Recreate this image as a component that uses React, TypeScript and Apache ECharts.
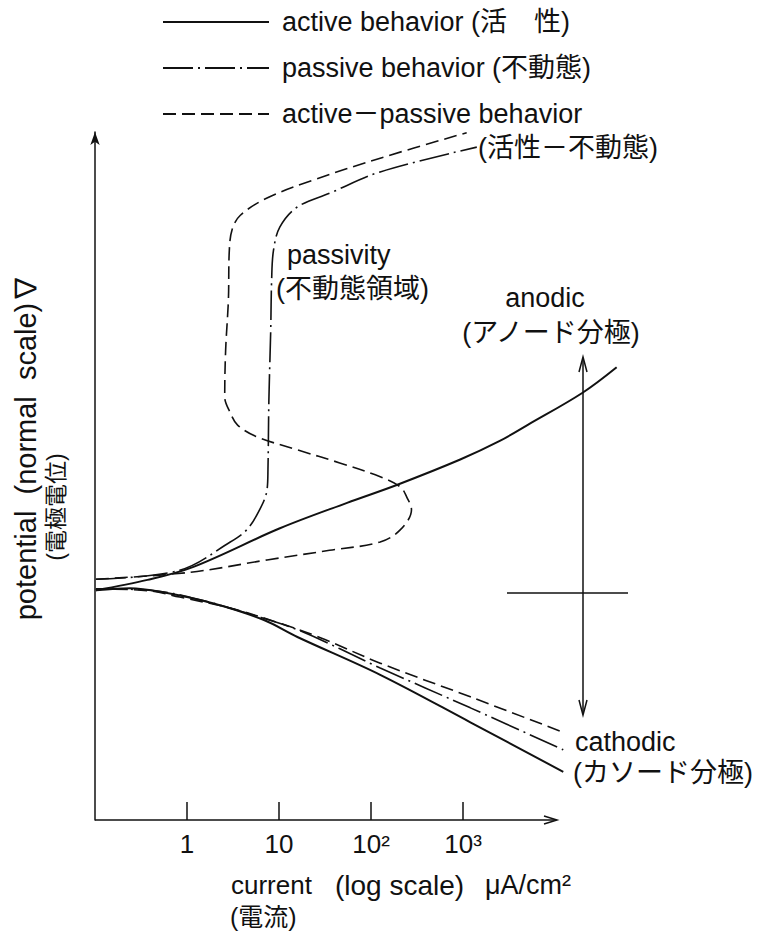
import React, { useEffect, useRef } from "react";
import * as echarts from "echarts";

// x: log10(current density, μA/cm²), y: potential (arbitrary, normal scale)
const activeAnodic: [number, number][] = [
  [-0.99, 33.4], [-0.43, 34.9], [0.07, 36.8], [1.01, 42.4], [1.74, 46.1],
  [2.28, 48.7], [2.97, 52.4], [3.4, 55.1], [3.7, 57.4], [4.3, 62.1], [4.67, 65.8],
];
const activeCathodic: [number, number][] = [
  [-0.99, 33.4], [-0.62, 33.7], [-0.26, 33.1], [0.28, 31.5], [0.83, 29.1],
  [1.2, 26.6], [2.1, 21.1], [3.08, 14.2], [4.09, 7.0],
];
const passiveAnodic: [number, number][] = [
  [-0.99, 35.0], [-0.08, 36.3], [0.47, 40.4], [0.65, 42.2], [0.79, 45.1],
  [0.87, 48.0], [0.88, 50.9], [0.89, 61.0], [0.91, 71.2], [0.92, 78.5],
  [0.94, 82.8], [1.01, 86.2], [1.2, 89.1], [1.55, 91.1], [2.1, 94.2], [3.15, 97.8],
];
const passiveCathodic: [number, number][] = [
  [-0.99, 33.6], [-0.4, 33.4], [0.14, 32.0], [0.69, 29.9], [1.23, 27.5],
  [2.1, 22.1], [3.08, 16.3], [4.09, 10.2],
];
const activePassiveAnodic: [number, number][] = [
  [-0.99, 35.0], [0.03, 36.0], [0.87, 37.8], [1.55, 39.2], [2.1, 40.4],
  [2.32, 42.2], [2.44, 45.1], [2.39, 46.9], [2.32, 48.4], [2.1, 49.9],
  [1.66, 51.9], [1.2, 53.8], [0.76, 55.7], [0.55, 57.4], [0.47, 59.2],
  [0.41, 61.5], [0.42, 68.3], [0.45, 75.6], [0.46, 82.8], [0.49, 85.8],
  [0.58, 87.9], [0.87, 90.4], [1.37, 93.0], [2.1, 96.2], [3.04, 99.9],
];
const activePassiveCathodic: [number, number][] = [
  [-0.99, 33.6], [-0.4, 33.3], [-0.08, 32.4], [0.47, 30.8], [1.01, 28.6],
  [1.45, 26.5], [2.1, 22.8], [3.08, 17.9], [4.08, 12.8],
];

const tickValues = [0, 1, 2, 3];
const tickLabels = ["1", "10", "10²", "10³"];

const seriesNames = [
  "active behavior (活　性)",
  "passive behavior (不動態)",
  "active－passive behavior",
];

const FONT = "'Liberation Sans', 'Noto Sans CJK JP', sans-serif";
const INK = "#111";

export default function App() {
  const ref = useRef<HTMLDivElement>(null);

  useEffect(() => {
    document.body.style.margin = "0";
    const chart = echarts.init(ref.current!, undefined, { renderer: "svg" });

    const styles: any[] = [
      { type: "solid", width: 2 },
      { type: [30, 5, 2, 5], width: 1.6 },
      { type: [13, 6], width: 1.6 },
    ];
    const mk = (name: string, data: [number, number][], st: any) => ({
      type: "line",
      name,
      data,
      smooth: 0.35,
      symbol: "none",
      clip: false,
      lineStyle: { color: INK, ...st },
      itemStyle: { color: INK },
    });

    const txt = (text: string, x: number, y: number, extra: any = {}) => ({
      type: "text",
      x,
      y,
      style: {
        text,
        fill: INK,
        font: `27px ${FONT}`,
        textAlign: "left",
        textVerticalAlign: "middle",
        ...extra,
      },
    });

    chart.setOption({
      animation: false,
      backgroundColor: "#fff",
      // x from -1 to 4.7 decades at 92 px per decade; the drawn axis stops at 4
      grid: { left: 95, top: 132, width: 524.4, height: 688 },
      legend: {
        orient: "vertical",
        left: 157,
        top: 3,
        itemWidth: 106,
        itemHeight: 14,
        itemGap: 18,
        data: seriesNames,
        itemStyle: { opacity: 0 },
        textStyle: {
          fontFamily: FONT,
          fontSize: 27,
          lineHeight: 28,
          color: INK,
          padding: [0, 0, 0, 8],
        },
        selectedMode: false,
      },
      xAxis: {
        type: "value",
        min: -1,
        max: 4.7,
        axisLine: { show: false, onZero: false },
        axisTick: {
          show: true,
          inside: true,
          length: 18,
          customValues: tickValues,
          lineStyle: { color: INK, width: 1.5 },
        },
        axisLabel: {
          customValues: tickValues,
          formatter: (v: number) => {
            const i = tickValues.indexOf(v);
            return i >= 0 ? tickLabels[i] : "";
          },
          fontFamily: FONT,
          fontSize: 26,
          color: INK,
          margin: 11,
        },
        splitLine: { show: false },
      },
      yAxis: {
        type: "value",
        min: 0,
        max: 100,
        axisLine: {
          show: true,
          onZero: false,
          symbol: ["none", "arrow"],
          symbolSize: [7, 13],
          lineStyle: { color: INK, width: 1.5 },
        },
        axisTick: { show: false },
        axisLabel: { show: false },
        splitLine: { show: false },
      },
      series: [
        mk(seriesNames[0], activeAnodic, styles[0]),
        mk(seriesNames[0], activeCathodic, styles[0]),
        mk(seriesNames[1], passiveAnodic, styles[1]),
        mk(seriesNames[1], passiveCathodic, styles[1]),
        mk(seriesNames[2], activePassiveAnodic, styles[2]),
        mk(seriesNames[2], activePassiveCathodic, styles[2]),
      ],
      graphic: [
        // x axis line with arrow head (ends at 10^4)
        {
          type: "line",
          shape: { x1: 95, y1: 820, x2: 556, y2: 820 },
          style: { stroke: INK, lineWidth: 1.5 },
        },
        {
          type: "polyline",
          shape: { points: [[544, 816], [557, 820], [544, 824]] },
          style: { stroke: INK, lineWidth: 1.5, fill: null },
        },
        txt("(活性－不動態)", 478, 148),
        txt("passivity", 287, 255),
        txt("(不動態領域)", 276, 289),
        txt("anodic", 545, 298, { textAlign: "center" }),
        txt("(アノード分極)", 551, 333, { textAlign: "center" }),
        txt("cathodic", 575, 742),
        txt("(カソード分極)", 573, 773),
        txt("current", 231, 885, { font: `26px ${FONT}` }),
        txt("(log scale)", 335, 885, { font: `28px ${FONT}` }),
        txt("μA/cm²", 485, 885, { font: `27px ${FONT}` }),
        txt("(電流)", 230, 917, { font: `25px ${FONT}` }),
        {
          type: "text",
          x: 26,
          y: 447,
          rotation: Math.PI / 2,
          style: {
            text: "potential  (normal  scale)∇",
            fill: INK,
            font: `29px ${FONT}`,
            textAlign: "center",
            textVerticalAlign: "middle",
          },
        },
        {
          type: "text",
          x: 56,
          y: 507,
          rotation: Math.PI / 2,
          style: {
            text: "(電極電位)",
            fill: INK,
            font: `23px ${FONT}`,
            textAlign: "center",
            textVerticalAlign: "middle",
          },
        },
        {
          type: "line",
          shape: { x1: 583, y1: 358, x2: 583, y2: 714 },
          style: { stroke: INK, lineWidth: 1.5 },
        },
        {
          type: "polyline",
          shape: { points: [[579, 372], [583, 357], [587, 372]] },
          style: { stroke: INK, lineWidth: 1.5, fill: null },
        },
        {
          type: "polyline",
          shape: { points: [[579, 700], [583, 715], [587, 700]] },
          style: { stroke: INK, lineWidth: 1.5, fill: null },
        },
        {
          type: "line",
          shape: { x1: 507, y1: 593, x2: 628, y2: 593 },
          style: { stroke: INK, lineWidth: 1.5 },
        },
      ],
    });

    return () => chart.dispose();
  }, []);

  return (
    <div
      ref={ref}
      style={{ position: "fixed", left: 0, top: 0, width: 757, height: 935 }}
    />
  );
}
